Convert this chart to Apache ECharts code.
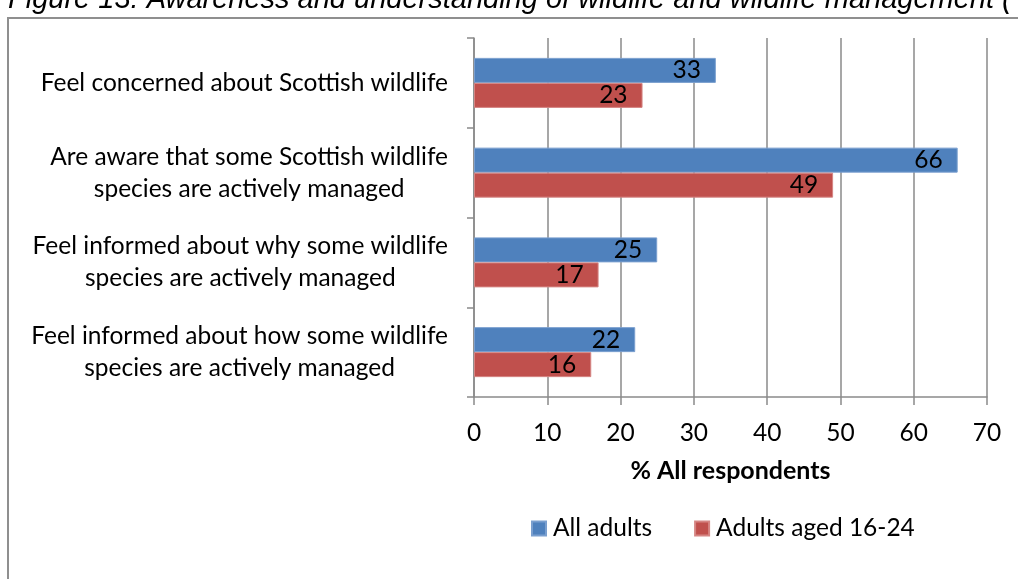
<!DOCTYPE html>
<html>
<head>
<meta charset="utf-8">
<script src="https://cdn.jsdelivr.net/npm/echarts@6/dist/echarts.min.js"></script>
<style>
  html, body { margin: 0; padding: 0; background: #fff; }
  #chart { width: 1018px; height: 579px; }
</style>
</head>
<body>
<div id="chart"></div>
<script>
// Survey statements (top to bottom) and the share of respondents agreeing
var categories = [
  'Feel concerned about Scottish wildlife',
  'Are aware that some Scottish wildlife\nspecies are actively managed',
  'Feel informed about why some wildlife\nspecies are actively managed',
  'Feel informed about how some wildlife\nspecies are actively managed'
];
var allAdults = [33, 66, 25, 22];
var adults16to24 = [23, 49, 17, 16];
var seriesNames = ['All adults', 'Adults aged 16-24'];
var xTicks = [0, 10, 20, 30, 40, 50, 60, 70];
var axisTitle = '% All respondents';
var figureTitle = 'Figure 13: Awareness and understanding of wildlife and wildlife management (';

var FONT = 'Lato';
var FS = 24.5;
var GREY = '#8a8a8a';

var chart = echarts.init(document.getElementById('chart'), null, { renderer: 'canvas' });

var barLabel = {
  show: true,
  position: 'insideRight',
  distance: 15,
  color: '#000',
  fontFamily: FONT,
  fontSize: FS
};

chart.setOption({
  animation: false,
  backgroundColor: '#fff',
  graphic: [
    {
      type: 'rect',
      shape: { x: 8, y: 18, width: 1200, height: 800 },
      style: { fill: 'none', stroke: '#8f8f8f', lineWidth: 2 },
      silent: true
    },
    {
      type: 'text',
      x: 8,
      y: 14,
      style: {
        text: figureTitle,
        fontFamily: 'Liberation Sans',
        fontStyle: 'italic',
        fontSize: 29,
        verticalAlign: 'bottom',
        fill: '#000'
      },
      silent: true
    }
  ],
  grid: { left: 474, right: 31, top: 38, bottom: 182, containLabel: false },
  legend: {
    data: seriesNames,
    left: 526,
    top: 511,
    itemWidth: 14,
    itemHeight: 14,
    itemGap: 42,
    icon: 'rect',
    textStyle: { fontFamily: FONT, fontSize: FS, color: '#000', padding: [0, 0, 0, 2] }
  },
  xAxis: {
    type: 'value',
    min: 0,
    max: 70,
    interval: 10,
    name: axisTitle,
    nameLocation: 'middle',
    nameGap: 61,
    nameTextStyle: { fontFamily: FONT, fontWeight: 'bold', fontSize: 25, color: '#000' },
    axisLine: { show: true, lineStyle: { color: GREY, width: 1.5 } },
    axisTick: { show: true, length: 8, lineStyle: { color: GREY, width: 1.5 } },
    axisLabel: {
      margin: 24,
      fontFamily: FONT,
      fontSize: FS,
      color: '#000',
      formatter: function (v) { return xTicks.indexOf(v) >= 0 ? String(v) : ''; }
    },
    splitLine: { show: true, lineStyle: { color: GREY, width: 1.5 } }
  },
  yAxis: {
    type: 'category',
    inverse: true,
    data: categories,
    axisLine: { show: true, lineStyle: { color: GREY, width: 1.5 } },
    axisTick: { show: true, length: 7, lineStyle: { color: GREY, width: 1.5 } },
    axisLabel: {
      margin: 26,
      align: 'right',
      formatter: function (v) {
        return v.split('\n').map(function (l) { return '{c|' + l + '}'; }).join('\n');
      },
      rich: {
        c: { align: 'center', fontFamily: FONT, fontSize: FS, lineHeight: 32, color: '#000' }
      }
    }
  },
  series: [
    {
      name: seriesNames[0],
      type: 'bar',
      data: allAdults,
      barWidth: 25,
      barGap: '0%',
      barCategoryGap: '44%',
      itemStyle: { color: '#4F81BD', borderColor: '#7a9fcf', borderWidth: 1 },
      label: barLabel
    },
    {
      name: seriesNames[1],
      type: 'bar',
      data: adults16to24,
      barWidth: 25,
      itemStyle: { color: '#C0504D', borderColor: '#d58583', borderWidth: 1 },
      label: barLabel
    }
  ]
});
</script>
</body>
</html>
